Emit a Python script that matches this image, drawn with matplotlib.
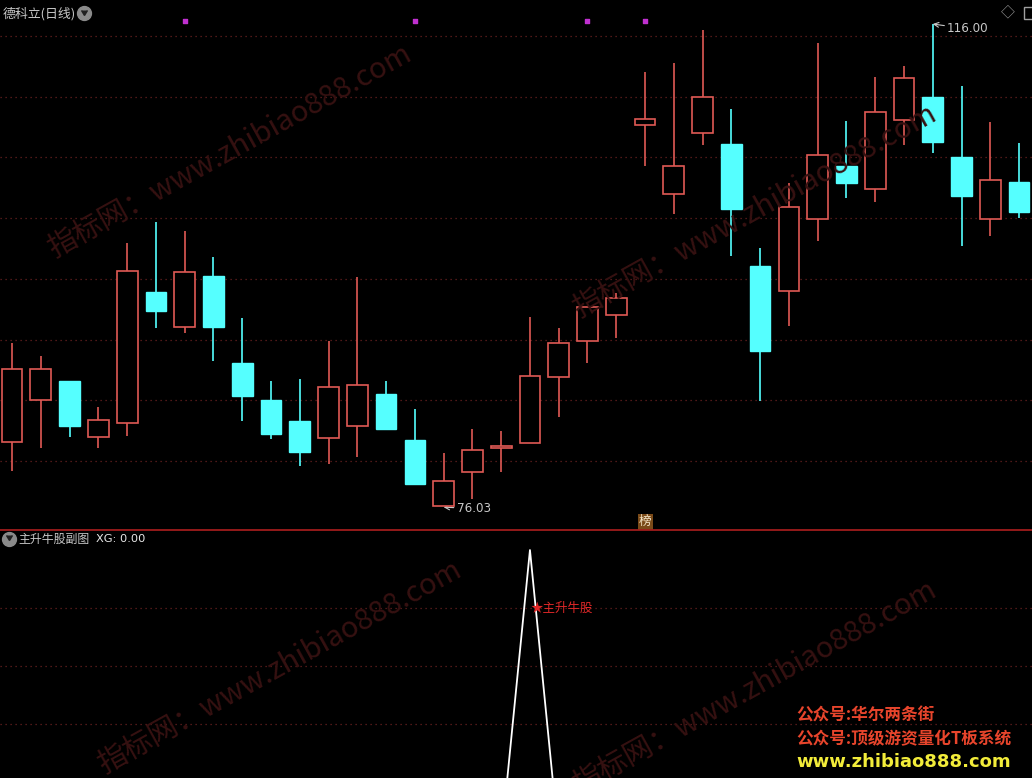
import matplotlib
matplotlib.use('Agg')
import matplotlib.pyplot as plt
import numpy as np

plt.rcParams['font.family'] = ['Noto Sans CJK SC', 'DejaVu Sans']

# ---- data (daily candles, 德科立) ----
opens  = [81.34, 84.82, 86.40, 81.75, 82.91, 93.78, 90.87, 95.10, 87.89, 84.82,
          83.08, 81.67, 82.66, 85.32, 81.50, 76.03, 78.85, 80.84, 81.25, 86.73,
          89.71, 91.87, 107.63, 101.90, 106.96, 106.05, 95.93, 93.86, 99.83, 104.23,
          102.32, 108.04, 109.95, 104.97, 99.83, 102.90]
highs  = [89.55, 88.47, 86.40, 84.24, 97.84, 99.58, 98.84, 96.68, 91.62, 86.40,
          86.56, 89.71, 95.02, 86.40, 84.07, 80.43, 82.42, 82.25, 91.70, 90.79,
          92.53, 93.69, 112.02, 112.77, 115.50, 108.95, 97.43, 102.82, 114.43, 107.96,
          111.61, 112.52, 116.00, 110.86, 107.88, 106.13]
lows   = [78.93, 80.84, 81.75, 80.84, 81.84, 90.79, 90.38, 88.05, 83.08, 81.59,
          79.35, 79.51, 80.09, 82.33, 77.85, 76.03, 76.61, 78.85, 81.25, 83.41,
          87.89, 89.96, 104.23, 100.25, 105.97, 96.76, 84.74, 90.96, 98.01, 101.57,
          101.24, 105.97, 105.30, 97.59, 98.42, 99.91]
closes = [87.39, 87.39, 82.66, 83.16, 95.52, 92.20, 95.44, 90.87, 85.15, 82.00,
          80.51, 85.90, 86.06, 82.42, 77.85, 78.10, 80.67, 81.01, 86.81, 89.55,
          92.53, 93.28, 108.12, 104.23, 109.95, 100.66, 88.88, 100.83, 105.14, 102.82,
          108.70, 111.52, 106.22, 101.74, 103.06, 100.41]
xg_values = [0, 0, 0, 0, 0, 0, 0, 0, 0, 0, 0, 0, 0, 0, 0, 0, 0, 0, 1,
             0, 0, 0, 0, 0, 0, 0, 0, 0, 0, 0, 0, 0, 0, 0, 0, 0]
marker_idx = [6, 14, 20, 22]
marker_price = 116.25
signal_idx = 18
signal_label = "主升牛股"
stock_title = "德科立(日线)"
sub_title = "主升牛股副图"
sub_value = "XG: 0.00"
high_label = "116.00"
low_label = "76.03"
grid_top = [115.01, 109.95, 104.97, 99.91, 94.85, 89.80, 84.82, 79.76]
grid_bottom = [0.4, 0.6, 0.8]

RED = '#e05a55'
CYAN = '#55ffff'
GRID = '#6a2020'
TXT = '#c8c8c8'

fig = plt.figure(figsize=(10.32, 7.78), dpi=100, facecolor='black')
ax = fig.add_axes([0, 248/778, 1, 526/778], facecolor='black')
ax2 = fig.add_axes([0, 0, 1, 248/778], facecolor='black')

x = np.arange(len(opens))
o, h, l, c = map(np.array, (opens, highs, lows, closes))
up = c >= o
lo = np.minimum(o, c)
hi = np.maximum(o, c)

for a in (ax, ax2):
    a.set_xlim(-0.42, 35.45)
    a.set_xticks([])
    a.set_yticks([])
    for s in a.spines.values():
        s.set_visible(False)

ax.set_ylim(74.04, 117.66)
for g in grid_top:
    ax.axhline(g, color=GRID, lw=0.9, ls=(0, (1, 3)), zorder=1)

# watermarks
wm = "指标网：www.zhibiao888.com"
for (cx, cy) in [(230, 152), (755, 212), (280, 668), (755, 688)]:
    fig.text(cx/1032, 1 - cy/778, wm, rotation=29, color='#361111', fontsize=21,
             ha='center', va='center', zorder=0.5)

ax.vlines(x[up], hi[up], h[up], color=RED, lw=1.2, zorder=3)
ax.vlines(x[up], l[up], lo[up], color=RED, lw=1.2, zorder=3)
ax.vlines(x[~up], l[~up], h[~up], color=CYAN, lw=1.2, zorder=3)
ax.bar(x[up], (hi - lo)[up], bottom=lo[up], width=0.72, facecolor='black',
       edgecolor=RED, lw=1.2, zorder=4)
ax.bar(x[~up], (hi - lo)[~up], bottom=lo[~up], width=0.72, facecolor=CYAN,
       edgecolor=CYAN, lw=1.0, zorder=4)

ax.scatter(marker_idx, [marker_price]*len(marker_idx), marker='s', s=9,
           color='#c030d0', zorder=5)

ih = int(np.argmax(h))
il = int(np.argmin(l))
ax.annotate(high_label, xy=(ih, h[ih]), xytext=(ih + 0.5, h[ih] - 0.4),
            color=TXT, fontsize=8.6, va='center', ha='left', family='DejaVu Sans',
            arrowprops=dict(arrowstyle='->', color=TXT, lw=0.8, shrinkA=0, shrinkB=0))
ax.annotate(low_label, xy=(il, l[il] - 0.1), xytext=(il + 0.45, l[il] - 0.2),
            color=TXT, fontsize=8.6, va='center', ha='left', family='DejaVu Sans',
            arrowprops=dict(arrowstyle='->', color=TXT, lw=0.8, shrinkA=0, shrinkB=0))

ax.text(22, 74.72, "榜", color='#f5e6c8', fontsize=9, ha='center', va='center',
        bbox=dict(boxstyle='square,pad=0.1', facecolor='#7a4a18', edgecolor='none'),
        zorder=6)

ax.text(0.003, 0.982, stock_title, transform=ax.transAxes, color=TXT, fontsize=9.3,
        ha='left', va='center')
ax.plot([0.0815], [0.982], 'o', ms=10, color='#8a8a8a', transform=ax.transAxes, zorder=6)
ax.plot([0.0815], [0.980], marker=7, ms=5, color='#202020', transform=ax.transAxes, zorder=7)
ax.text(0.977, 0.983, "◇", transform=ax.transAxes, color='#a0a0a0', fontsize=10,
        ha='center', va='center')
ax.plot([0.998], [0.983], 's', ms=9, mfc='none', mec='#a0a0a0', transform=ax.transAxes)

# ---- bottom panel ----
ax2.set_ylim(0.214, 1.069)
ax2.spines['top'].set_visible(True)
ax2.spines['top'].set_color('#a01c1c')
ax2.spines['top'].set_linewidth(1.3)
for g in grid_bottom:
    ax2.axhline(g, color=GRID, lw=0.9, ls=(0, (1, 3)), zorder=1)
ax2.plot(x, xg_values, color='white', lw=1.3, zorder=3)
ax2.text(signal_idx + 0.02, 0.8, "★" + signal_label, color='#e02828', fontsize=9,
         ha='left', va='center', zorder=5)

ax2.plot([0.0085], [0.963], 'o', ms=10, color='#8a8a8a', transform=ax2.transAxes, zorder=6)
ax2.plot([0.0085], [0.960], marker=7, ms=5, color='#202020', transform=ax2.transAxes, zorder=7)
ax2.text(0.018, 0.963, sub_title, transform=ax2.transAxes, color=TXT, fontsize=8.6,
         ha='left', va='center')
ax2.text(0.093, 0.963, sub_value, transform=ax2.transAxes, color='#e8e8e8', fontsize=8.2,
         ha='left', va='center', family='DejaVu Sans')

fig.text(796/1032, 1 - 716/778, "公众号:华尔两条街", color='#e8452c', fontsize=12,
         fontweight='bold', ha='left', va='center')
fig.text(796/1032, 1 - 739/778, "公众号:顶级游资量化T板系统", color='#e8452c', fontsize=12,
         fontweight='bold', ha='left', va='center')
fig.text(796/1032, 1 - 762/778, "www.zhibiao888.com", color='#f2ec3a', fontsize=13,
         fontweight='bold', ha='left', va='center', family='DejaVu Sans')

fig.savefig('out.png', dpi=100, facecolor='black')
